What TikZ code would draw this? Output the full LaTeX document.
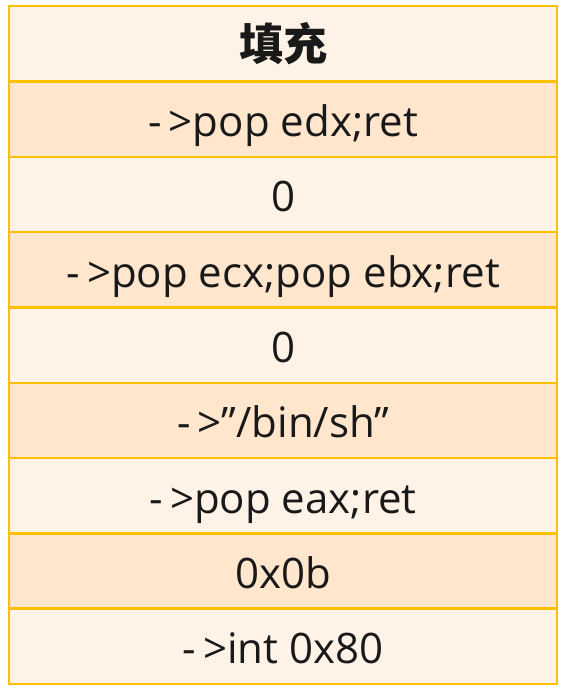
\documentclass[tikz,border=0pt]{standalone}
\usepackage{fontspec}
\setmainfont{Open Sans}
\newfontfamily\cjkfont{Noto Sans CJK SC}
\definecolor{lightrow}{HTML}{FFF3E7}
\definecolor{darkrow}{HTML}{FFE6CC}
\definecolor{rowborder}{HTML}{FFC000}
\begin{document}
\begin{tikzpicture}[x=1pt,y=-1pt,
  cellbox/.style={draw=rowborder,line width=2.4pt,minimum width=548pt,minimum height=75.3pt,inner sep=0pt,anchor=north west,font=\fontsize{42}{48}\selectfont,text=black!90,text height=34.7pt,text depth=0pt},
  lightcell/.style={cellbox,fill=lightrow},
  darkcell/.style={cellbox,fill=darkrow}]
\useasboundingbox (0,0) rectangle (568,690);
\node[lightcell,font=\cjkfont\fontsize{44}{50}\selectfont\bfseries,text height=,text depth=] (r1) at (8,5) {填充};
\node[darkcell] (r2) at (8,80.3) {-\,>pop edx;ret};
\node[lightcell] (r3) at (8,155.6) {0};
\node[darkcell] (r4) at (8,230.9) {-\,>pop ecx;pop ebx;ret};
\node[lightcell] (r5) at (8,306.2) {0};
\node[darkcell] (r6) at (8,381.5) {-\,>”/bin/sh”};
\node[lightcell] (r7) at (8,456.8) {-\,>pop eax;ret};
\node[darkcell] (r8) at (8,532.1) {0x0b};
\node[lightcell] (r9) at (8,607.4) {-\,>int 0x80};
\end{tikzpicture}
\end{document}
